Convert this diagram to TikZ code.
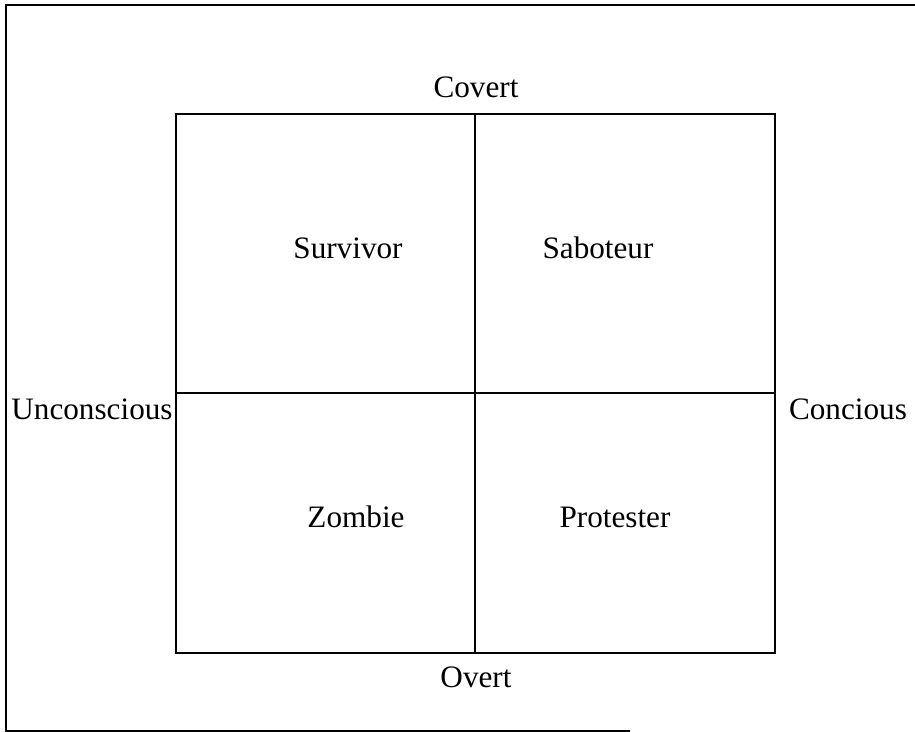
\documentclass[tikz,border=0pt]{standalone}
\usepackage{fontspec}
\setmainfont{Liberation Serif}
\usetikzlibrary{positioning}

\begin{document}
\begin{tikzpicture}[x=0.5pt,y=-0.5pt,font=\fontsize{15.6}{18}\selectfont,line width=0.9pt]
\useasboundingbox (0,0) rectangle (915,732);
% frame
\draw (915,5)--(6,5)--(6,731)--(630,731);
% grid
\draw (176,114) rectangle (775,653);
\draw (475,114)--(475,653);
\draw (176,393)--(775,393);
% axis labels
\node (cov) at (476,87){Covert};
\node (ovr) at (476,677){Overt};
\node (uncon) at (92,409){Unconscious};
\node (conc) at (848,409){Concious};
% quadrants
\node (surv) at (348,248){Survivor};
\node (sabo) at (598,248){Saboteur};
\node (zomb) at (356,517){Zombie};
\node (prot) at (615,517){Protester};
\end{tikzpicture}
\end{document}
